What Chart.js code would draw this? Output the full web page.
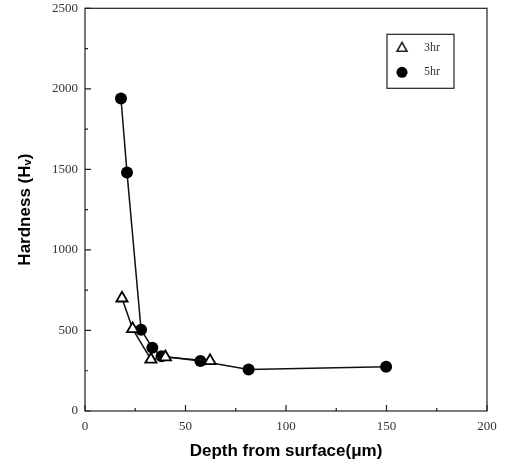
<!DOCTYPE html>
<html>
<head>
<meta charset="utf-8">
<script src="https://cdn.jsdelivr.net/npm/chart.js@4"></script>
<style>
  html, body { margin: 0; padding: 0; background: #fff; }
  #wrap { width: 512px; height: 476px; }
</style>
</head>
<body>
<div id="wrap"><canvas id="grafica" width="512" height="476"></canvas></div>
<script>
// depth from surface (um) and hardness (Hv)
var depth3 = [18.4, 23.7, 32.8, 40, 62.2];
var hard3 = [700, 510, 320, 335, 311];
var depth5 = [17.9, 20.9, 27.9, 33.5, 38.1, 57.4, 81.4, 149.8];
var hard5 = [1940, 1480, 505, 392, 340, 311, 258, 274];
var seriesNames = ["3hr", "5hr"];
var xTicks = [0, 50, 100, 150, 200];
var yTicks = [0, 500, 1000, 1500, 2000, 2500];

function toPoints(xs, ys) {
	var pts = [];
	for (var i = 0; i < xs.length; i++) pts.push({x: xs[i], y: ys[i]});
	return pts;
}

// frame, inward ticks and the boxed legend
var frame = {
	id: 'frame',
	afterDraw: function(chart) {
		var ctx = chart.ctx, a = chart.chartArea;
		var x = chart.scales.x, y = chart.scales.y;
		ctx.save();
		ctx.strokeStyle = '#222';
		ctx.lineWidth = 1.2;
		ctx.strokeRect(a.left, a.top, a.right - a.left, a.bottom - a.top);
		ctx.beginPath();
		for (var v = 0; v <= 200; v += 25) {
			var px = x.getPixelForValue(v);
			var len = (v % 50 === 0) ? 6 : 3;
			ctx.moveTo(px, a.bottom); ctx.lineTo(px, a.bottom - len);
		}
		for (var w = 0; w <= 2500; w += 250) {
			var py = y.getPixelForValue(w);
			var len2 = (w % 500 === 0) ? 6 : 3;
			ctx.moveTo(a.left, py); ctx.lineTo(a.left + len2, py);
		}
		ctx.stroke();

		// legend box
		var bx = a.right - 100, by = a.top + 26, bw = 67, bh = 54;
		ctx.lineWidth = 1.2;
		ctx.strokeRect(bx, by, bw, bh);
		var mx = bx + 15;
		// triangle
		ctx.beginPath();
		ctx.moveTo(mx, by + 8);
		ctx.lineTo(mx + 5, by + 17);
		ctx.lineTo(mx - 5, by + 17);
		ctx.closePath();
		ctx.lineWidth = 1.6;
		ctx.stroke();
		// circle
		ctx.beginPath();
		ctx.arc(mx, by + 38, 5.5, 0, Math.PI * 2);
		ctx.fillStyle = '#000';
		ctx.fill();
		ctx.font = '12px "Liberation Serif"';
		ctx.fillStyle = '#333';
		ctx.textBaseline = 'middle';
		ctx.fillText(seriesNames[0], bx + 37, by + 14);
		ctx.fillText(seriesNames[1], bx + 37, by + 38);
		ctx.restore();
	}
};

function plain(v) { return String(v); }

var ctx = document.getElementById('grafica');
var myChart = new Chart(ctx, {
	type: 'scatter',
	data: {
		datasets: [{
			label: seriesNames[0],
			data: toPoints(depth3, hard3),
			showLine: true,
			borderColor: '#111',
			borderWidth: 1.5,
			pointStyle: 'triangle',
			pointRadius: 6.5,
			pointBorderWidth: 1.8,
			pointBackgroundColor: '#fff',
			pointBorderColor: '#000'
		}, {
			label: seriesNames[1],
			data: toPoints(depth5, hard5),
			showLine: true,
			borderColor: '#111',
			borderWidth: 1.5,
			pointStyle: 'circle',
			pointRadius: 6,
			pointBorderWidth: 0,
			pointBackgroundColor: '#000',
			pointBorderColor: '#000'
		}]
	},
	options: {
		responsive: false,
		animation: false,
		layout: { padding: { left: 0, top: 7, right: 25, bottom: 0 } },
		plugins: { legend: { display: false }, tooltip: { enabled: false } },
		scales: {
			x: {
				type: 'linear', min: 0, max: 200,
				afterFit: function(s) { s.height = 65; s.paddingLeft = 0; s.paddingRight = 0; },
				afterBuildTicks: function(s) { s.ticks = xTicks.map(function(v) { return {value: v}; }); },
				grid: { display: false, drawTicks: false },
				border: { display: false },
				ticks: { padding: 8, color: '#333', callback: plain, font: { family: 'Liberation Serif', size: 13 } },
				title: {
					display: true, text: 'Depth from surface(\u03bcm)', color: '#000',
					font: { family: 'Liberation Sans', size: 17, weight: 'bold' },
					padding: { top: 0, bottom: 14 }
				}
			},
			y: {
				type: 'linear', min: 0, max: 2500,
				afterFit: function(s) { s.width = 85; s.paddingTop = 0; s.paddingBottom = 0; },
				afterBuildTicks: function(s) { s.ticks = yTicks.map(function(v) { return {value: v}; }); },
				grid: { display: false, drawTicks: false },
				border: { display: false },
				ticks: { padding: 7, color: '#333', callback: plain, font: { family: 'Liberation Serif', size: 13 } },
				title: {
					display: true, text: 'Hardness (H\u1d65)', color: '#000',
					font: { family: 'Liberation Sans', size: 17, weight: 'bold' },
					padding: { top: 15, bottom: 0 }
				}
			}
		}
	},
	plugins: [frame]
});
</script>
</body>
</html>
